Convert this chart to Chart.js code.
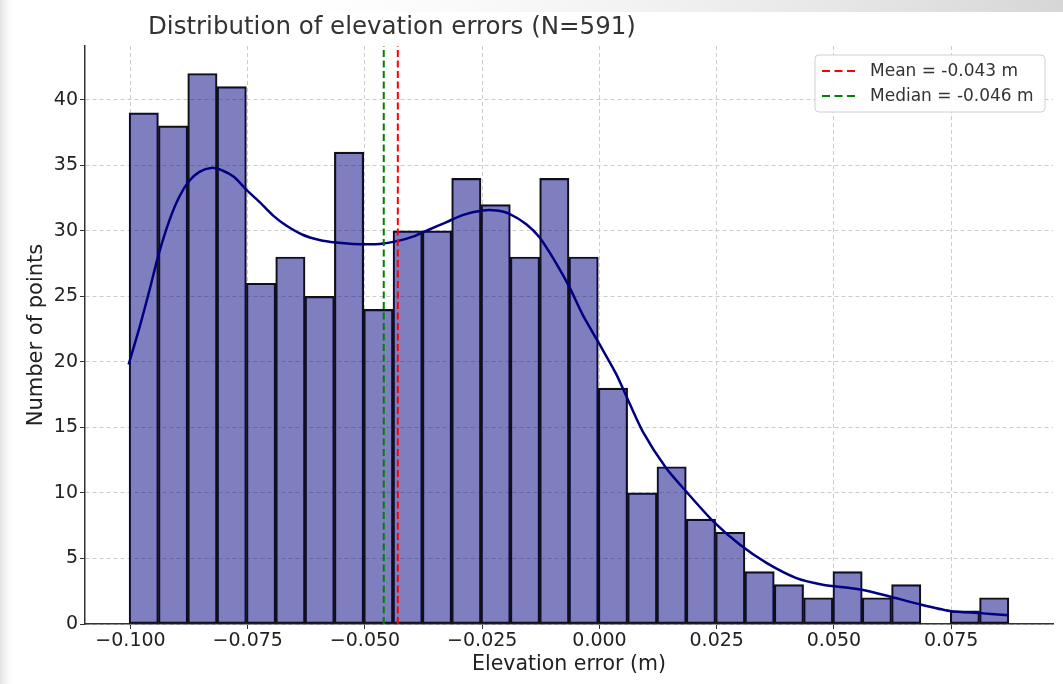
<!DOCTYPE html>
<html>
<head>
<meta charset="utf-8">
<script src="https://cdn.jsdelivr.net/npm/chart.js@4/dist/chart.umd.min.js"></script>
<style>
  html, body { margin: 0; padding: 0; background: #fff; }
  canvas { display: block; }
</style>
</head>
<body>
<canvas id="hist" width="1063" height="684"></canvas>
<script>
// histogram: 30 bins
var binStart = -0.1003;
var binWidth = 0.006253;
var counts = [39, 38, 42, 41, 26, 28, 25, 36, 24, 30,
              30, 34, 32, 28, 34, 28, 18, 10, 12, 8,
              7, 4, 3, 2, 4, 2, 3, 0, 1, 2];

// kde curve
var kdeX = [-0.1004, -0.0981, -0.0960, -0.0940, -0.0917, -0.0896, -0.0875, -0.0853, -0.0828, -0.0804,
            -0.0779, -0.0752, -0.0725, -0.0697, -0.0668, -0.0633, -0.0597, -0.0562, -0.0526, -0.0469,
            -0.0427, -0.0398, -0.0363, -0.0327, -0.0292, -0.0249, -0.0220, -0.0192, -0.0156, -0.0128,
            -0.0092, -0.0064, -0.0036, 0.0000, 0.0036, 0.0057, 0.0092, 0.0142, 0.0185, 0.0242,
            0.0299, 0.0356, 0.0420, 0.0476, 0.0533, 0.0562, 0.0619, 0.0683, 0.0747, 0.0811, 0.0873];
var kdeY = [19.8, 22.6, 25.4, 28.2, 30.8, 32.6, 33.8, 34.5, 34.8, 34.6,
            34.1, 33.1, 32.2, 31.2, 30.4, 29.7, 29.3, 29.1, 29.0, 29.0,
            29.25, 29.55, 30.1, 30.65, 31.2, 31.55, 31.55, 31.3, 30.5, 29.5,
            27.5, 25.7, 23.6, 21.35, 19.05, 17.4, 14.7, 11.9, 10.1, 7.85,
            6.06, 4.66, 3.5, 3.0, 2.75, 2.6, 2.1, 1.5, 1.0, 0.83, 0.66];

var meanVal = -0.043;
var medianVal = -0.046;

var xTicks = [-0.100, -0.075, -0.050, -0.025, 0.000, 0.025, 0.050, 0.075];
var yTicks = [0, 5, 10, 15, 20, 25, 30, 35, 40];
var xMin = -0.1097, xMax = 0.0967;
var yMax = 44.1;

var titleText = 'Distribution of elevation errors (N=591)';
var legendLabels = ['Mean = -0.043 m', 'Median = -0.046 m'];

var FONT = "'DejaVu Sans', sans-serif";

var barData = counts.map(function(c, i){
    return { x: binStart + (i + 0.5) * binWidth, y: c };
});
var kdeData = kdeX.map(function(x, i){ return { x: x, y: kdeY[i] }; });

function fmt(v){
    var s = Math.abs(v).toFixed(3);
    return (v < -1e-9 ? '\u2212' : '') + s;
}

var bgPlugin = {
    id: 'bg',
    beforeDraw: function(chart){
        var c = chart.ctx;
        c.save();
        c.fillStyle = '#fff';
        c.fillRect(0, 0, chart.width, chart.height);
        var g = c.createLinearGradient(0, 0, 16, 0);
        g.addColorStop(0, '#e2e2e2');
        g.addColorStop(1, 'rgba(255,255,255,0)');
        c.fillStyle = g;
        c.fillRect(0, 0, 16, chart.height);
        var g2 = c.createLinearGradient(300, 0, chart.width, 0);
        g2.addColorStop(0, 'rgba(235,235,235,0)');
        g2.addColorStop(1, '#d6d6d6');
        c.fillStyle = g2;
        c.fillRect(0, 0, chart.width, 12);
        c.restore();
    }
};

var decoPlugin = {
    id: 'deco',
    afterDraw: function(chart){
        var c = chart.ctx;
        c.save();
        // title
        c.fillStyle = '#333';
        c.font = '24.5px ' + FONT;
        c.textBaseline = 'middle';
        c.textAlign = 'left';
        c.fillText(titleText, 148, 28);

        // legend box
        var bx = 815, by = 55, bw = 230, bh = 57;
        c.beginPath();
        c.roundRect(bx, by, bw, bh, 4);
        c.fillStyle = 'rgba(255,255,255,0.85)';
        c.fill();
        c.strokeStyle = '#d0d0d0';
        c.lineWidth = 1;
        c.stroke();
        var cols = ['#ff0000', '#008000'];
        var rows = [71, 96];
        c.font = '17px ' + FONT;
        for (var i = 0; i < 2; i++){
            c.beginPath();
            c.setLineDash([8, 4.5]);
            c.strokeStyle = cols[i];
            c.lineWidth = 2;
            c.moveTo(822, rows[i]);
            c.lineTo(858, rows[i]);
            c.stroke();
            c.setLineDash([]);
            c.fillStyle = '#333';
            c.fillText(legendLabels[i], 870, rows[i] + 1);
        }
        c.restore();
    }
};

var ctx = document.getElementById('hist');
var hist = new Chart(ctx, {
    type: 'bar',
    data: {
        datasets: [{
            type: 'bar',
            data: barData,
            backgroundColor: 'rgba(0,0,128,0.5)',
            borderColor: '#111',
            borderWidth: 1.5,
            borderSkipped: false,
            barPercentage: 1,
            categoryPercentage: 1,
            order: 3
        }, {
            type: 'line',
            data: kdeData,
            borderColor: '#000080',
            borderWidth: 2.5,
            pointRadius: 0,
            tension: 0.25,
            fill: false,
            order: 2
        }, {
            type: 'line',
            data: [{ x: meanVal, y: 0 }, { x: meanVal, y: yMax }],
            borderColor: '#ff0000',
            borderWidth: 2,
            borderDash: [7, 3.5],
            pointRadius: 0,
            order: 1
        }, {
            type: 'line',
            data: [{ x: medianVal, y: 0 }, { x: medianVal, y: yMax }],
            borderColor: '#008000',
            borderWidth: 2,
            borderDash: [7, 3.5],
            pointRadius: 0,
            order: 1
        }]
    },
    options: {
        responsive: false,
        animation: false,
        layout: { padding: { top: 46, right: 10, left: 0, bottom: 0 } },
        plugins: {
            legend: { display: false },
            tooltip: { enabled: false },
            title: { display: false }
        },
        scales: {
            x: {
                type: 'linear',
                min: xMin,
                max: xMax,
                offset: false,
                afterBuildTicks: function(s){ s.ticks = xTicks.map(function(v){ return { value: v }; }); },
                afterFit: function(s){ s.height = 60; },
                grid: {
                    offset: false,
                    color: '#cccccc',
                    lineWidth: 1,
                    tickColor: '#333',
                    tickLength: 5,
                    tickBorderDash: []
                },
                border: { display: true, color: '#333', width: 1.5, dash: [4, 3] },
                ticks: {
                    callback: function(v){ return fmt(v); },
                    font: { family: FONT, size: 19 },
                    color: '#222',
                    padding: 1,
                    maxRotation: 0,
                    autoSkip: false
                },
                title: {
                    display: true,
                    text: 'Elevation error (m)',
                    font: { family: FONT, size: 20.5 },
                    color: '#222',
                    padding: { top: 0, bottom: 7 }
                }
            },
            y: {
                min: 0,
                max: yMax,
                afterBuildTicks: function(s){ s.ticks = yTicks.map(function(v){ return { value: v }; }); },
                afterFit: function(s){ s.width = 85; },
                grid: {
                    color: '#cccccc',
                    lineWidth: 1,
                    tickColor: '#333',
                    tickLength: 5,
                    tickBorderDash: []
                },
                border: { display: true, color: '#333', width: 1.5, dash: [4, 3] },
                ticks: {
                    font: { family: FONT, size: 19 },
                    color: '#222',
                    padding: 2
                },
                title: {
                    display: true,
                    text: 'Number of points',
                    font: { family: FONT, size: 21 },
                    color: '#222',
                    padding: { top: 24, bottom: 0 }
                }
            }
        }
    },
    plugins: [bgPlugin, decoPlugin]
});
</script>
</body>
</html>
